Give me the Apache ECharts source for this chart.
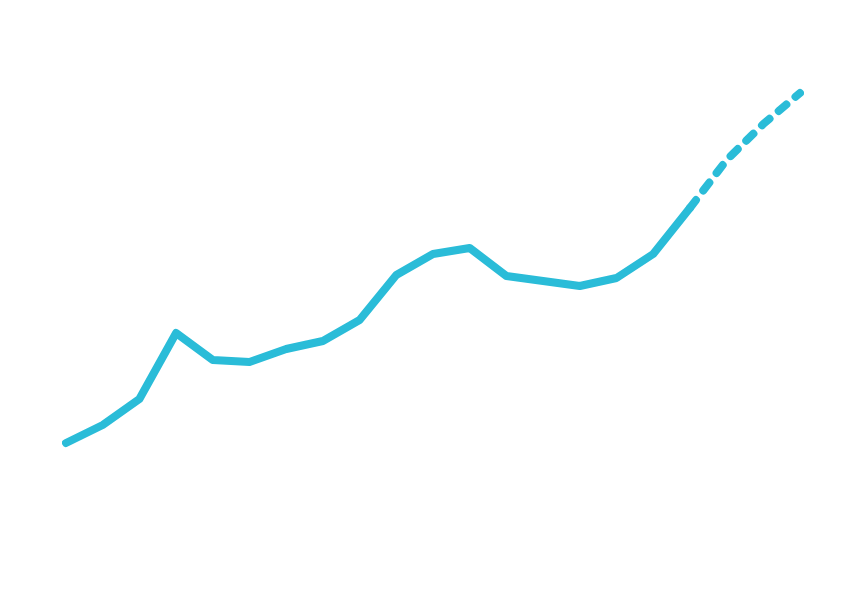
<!DOCTYPE html>
<html><head><meta charset="utf-8">
<script src="https://cdn.jsdelivr.net/npm/echarts@6/dist/echarts.min.js"></script>
<style>html,body{margin:0;padding:0;background:#fff}#c{width:862px;height:593px}</style>
</head><body><div id="c"></div>
<script>
const categories = ['0','1','2','3','4','5','6','7','8','9','10','11','12','13','14','15','16','17','18','19','20'];
const actual = [150,168,194,260,233,231,244,252,273,318,339,345,317,312,307,315,339,385,null,null,null];
const forecast = [null,null,null,null,null,null,null,null,null,null,null,null,null,null,null,null,null,385,433,469,500];
const chart = echarts.init(document.getElementById('c'));
chart.setOption({
  animation:false,
  grid:{left:66,right:62,top:0,bottom:0},
  xAxis:{type:'category',data:categories,boundaryGap:false,show:false},
  yAxis:{type:'value',min:0,max:593,show:false},
  series:[
    {type:'line',data:actual,symbol:'none',lineStyle:{width:8,color:'#2abcd8',cap:'round',join:'round'}},
    {type:'line',data:forecast,symbol:'none',lineStyle:{width:8,color:'#2abcd8',type:[10,12],cap:'round',join:'round'}}
  ]
});
</script></body></html>
